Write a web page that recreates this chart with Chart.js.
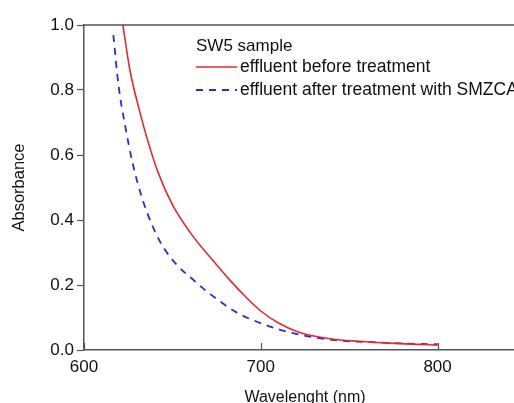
<!DOCTYPE html>
<html>
<head>
<meta charset="utf-8">
<script src="https://cdn.jsdelivr.net/npm/chart.js@4"></script>
<style>
  html, body { margin: 0; padding: 0; background: #fff; overflow: hidden; }
  #wrap { width: 530px; height: 403px; }
</style>
</head>
<body>
<div id="wrap"><canvas id="absChart" width="530" height="403"></canvas></div>
<script>
const legendTitle = 'SW5 sample';
const beforeLabel = 'effluent before treatment';
const afterLabel = 'effluent after treatment with SMZCA';

const beforeWavelength = [622, 626, 631, 636, 642, 650, 660, 675, 683, 691, 700, 710, 720, 730, 740, 755, 770, 785, 800];
const beforeAbsorbance = [1.0, 0.86, 0.745, 0.645, 0.545, 0.447, 0.362, 0.262, 0.212, 0.166, 0.12, 0.083, 0.058, 0.043, 0.034, 0.027, 0.022, 0.018, 0.015];

const afterWavelength = [616.6, 619.5, 623.2, 627.5, 632.7, 639.3, 645, 652.5, 662, 671.4, 686.5, 697.8, 711, 726, 745, 768, 788, 800];
const afterAbsorbance = [0.969, 0.815, 0.692, 0.575, 0.47, 0.375, 0.315, 0.262, 0.215, 0.172, 0.115, 0.087, 0.062, 0.043, 0.029, 0.023, 0.019, 0.018];

const xTicks = [600, 700, 800];
const yTicks = [0, 0.2, 0.4, 0.6, 0.8, 1.0];

const axisColor = '#555';
const fontFamily = '"Liberation Sans", Arial, sans-serif';

function toPoints(xs, ys) {
  return xs.map((x, i) => ({ x: x, y: ys[i] }));
}

// box border, inward x ticks and the legend block
const extras = {
  id: 'extras',
  afterDraw(chart) {
    const { ctx, chartArea: a, scales } = chart;
    ctx.save();
    ctx.strokeStyle = axisColor;
    ctx.lineWidth = 1.5;
    ctx.beginPath();
    ctx.moveTo(a.left, a.top);
    ctx.lineTo(a.right, a.top);
    ctx.lineTo(a.right, a.bottom);
    ctx.stroke();

    ctx.beginPath();
    xTicks.forEach(v => {
      const px = Math.round(scales.x.getPixelForValue(v)) + 0.5;
      ctx.moveTo(px, a.bottom);
      ctx.lineTo(px, a.bottom - 7);
    });
    ctx.lineWidth = 1.2;
    ctx.stroke();

    const lx = 196, ly = 46;
    ctx.fillStyle = '#111';
    ctx.textBaseline = 'middle';
    ctx.font = '17px ' + fontFamily;
    ctx.fillText(legendTitle, lx, ly);
    ctx.font = '17.5px ' + fontFamily;
    chart.data.datasets.forEach((ds, i) => {
      const y = ly + 21 + i * 23;
      ctx.strokeStyle = ds.borderColor;
      ctx.lineWidth = ds.borderWidth;
      ctx.setLineDash(ds.borderDash || []);
      ctx.beginPath();
      ctx.moveTo(lx, y);
      ctx.lineTo(lx + 41, y);
      ctx.stroke();
      ctx.setLineDash([]);
      ctx.fillText(ds.label, lx + 44, y);
    });
    ctx.restore();
  }
};

new Chart(document.getElementById('absChart').getContext('2d'), {
  type: 'line',
  data: {
    datasets: [
      {
        label: beforeLabel,
        data: toPoints(beforeWavelength, beforeAbsorbance),
        borderColor: '#e8282a',
        borderWidth: 1.6,
        pointRadius: 0,
        cubicInterpolationMode: 'monotone',
        fill: false
      },
      {
        label: afterLabel,
        data: toPoints(afterWavelength, afterAbsorbance),
        borderColor: '#2b2bd6',
        borderWidth: 1.8,
        borderDash: [7, 6],
        pointRadius: 0,
        cubicInterpolationMode: 'monotone',
        fill: false
      }
    ]
  },
  options: {
    responsive: false,
    animation: false,
    layout: { padding: { left: 0, top: 25, right: 4, bottom: 0 } },
    plugins: {
      legend: { display: false },
      tooltip: { enabled: false }
    },
    scales: {
      x: {
        type: 'linear',
        min: 600,
        max: 850,
        afterFit(scale) { scale.height = 53; },
        afterBuildTicks(scale) { scale.ticks = xTicks.map(v => ({ value: v })); },
        grid: { display: true, drawOnChartArea: false, drawTicks: false },
        border: { display: true, color: axisColor, width: 1.5 },
        ticks: {
          padding: 7,
          color: '#111',
          font: { family: fontFamily, size: 17 },
          maxRotation: 0
        },
        title: {
          display: true,
          text: 'Wavelenght (nm)',
          color: '#111',
          font: { family: fontFamily, size: 16 },
          padding: { top: 0, bottom: -4 }
        }
      },
      y: {
        min: 0,
        max: 1,
        afterFit(scale) { scale.width = 84; },
        afterBuildTicks(scale) { scale.ticks = yTicks.map(v => ({ value: v })); },
        grid: { display: true, drawOnChartArea: false, drawTicks: true, tickLength: 7, color: axisColor, tickWidth: 1.2 },
        border: { display: true, color: axisColor, width: 1.5 },
        ticks: {
          padding: 3,
          color: '#111',
          font: { family: fontFamily, size: 17 },
          callback: v => v.toFixed(1)
        },
        title: {
          display: true,
          text: 'Absorbance',
          color: '#111',
          font: { family: fontFamily, size: 16.5 },
          padding: { top: 10, bottom: 0 }
        }
      }
    }
  },
  plugins: [extras]
});
</script>
</body>
</html>
